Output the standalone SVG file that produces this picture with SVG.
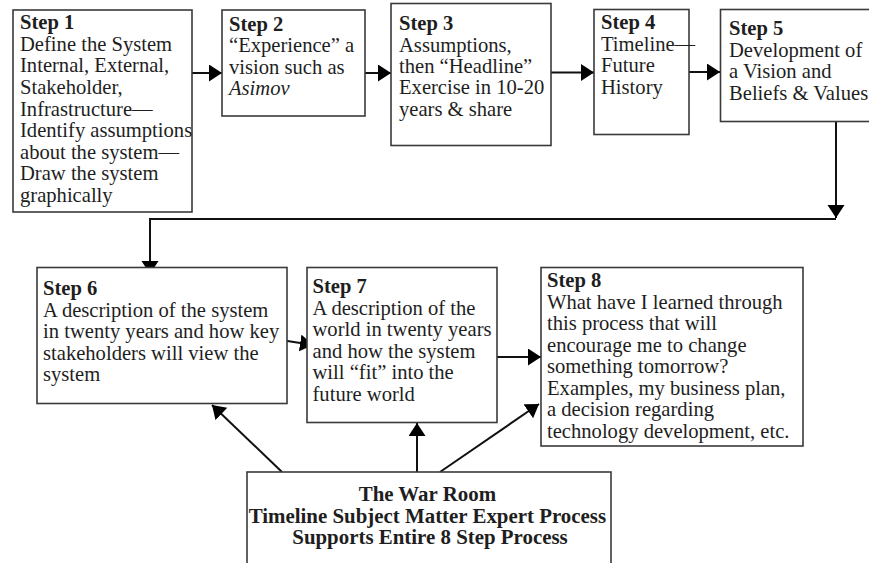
<svg xmlns="http://www.w3.org/2000/svg" width="869" height="563" viewBox="0 0 869 563">
  <style>
    .box { fill: #ffffff; stroke: #3a3a3a; stroke-width: 1.6; }
    .txt { font-family: "Liberation Serif", "Times New Roman", serif; font-size: 20.6px; fill: #1e1e1e; }
    .hd { font-weight: bold; }
    .ctr { text-anchor: middle; font-weight: bold; font-size: 20.9px; }
    .wire { fill: none; stroke: #111111; stroke-width: 2; }
    .arrow { fill: none; stroke: #111111; stroke-width: 2; marker-end: url(#head); }
  </style>
  <defs>
    <marker id="head" markerUnits="userSpaceOnUse" markerWidth="14" markerHeight="18" refX="13" refY="8.5" orient="auto">
      <path d="M0,0 L13,8.5 L0,17 z" fill="#000000"/>
    </marker>
  </defs>
  <rect width="869" height="563" fill="#ffffff"/>

  <g id="connectors">
    <line class="arrow" x1="192" y1="73" x2="222" y2="73"/>
    <line class="arrow" x1="365" y1="73" x2="391" y2="73"/>
    <line class="arrow" x1="551" y1="72.5" x2="594" y2="72.5"/>
    <line class="arrow" x1="689" y1="72" x2="720" y2="72"/>
    <line class="arrow" x1="836" y1="122" x2="836" y2="218"/>
    <polyline class="wire" points="836,219 150,219 150,262"/>
    <line class="arrow" x1="150" y1="258" x2="150" y2="274"/>
    <line class="arrow" x1="281" y1="340" x2="313" y2="345"/>
    <line class="arrow" x1="497" y1="357" x2="541" y2="357"/>
    <line class="arrow" x1="282" y1="472" x2="212" y2="405"/>
    <line class="arrow" x1="417" y1="472" x2="417" y2="423"/>
    <line class="arrow" x1="440" y1="472" x2="539" y2="404"/>
  </g>

  <g id="step1">
    <rect class="box" x="13" y="10" width="179" height="202"/>
    <text class="txt" x="20" y="29.3" font-size="20.2"><tspan class="hd">Step 1</tspan>
      <tspan x="20" y="50.9">Define the System</tspan>
      <tspan x="20" y="72.4">Internal, External,</tspan>
      <tspan x="20" y="94">Stakeholder,</tspan>
      <tspan x="20" y="115.5">Infrastructure—</tspan>
      <tspan x="20" y="137">Identify assumptions</tspan>
      <tspan x="20" y="158.6">about the system—</tspan>
      <tspan x="20" y="180.2">Draw the system</tspan>
      <tspan x="20" y="201.7">graphically</tspan>
    </text>
  </g>

  <g id="step2">
    <rect class="box" x="222" y="10" width="143" height="106"/>
    <text class="txt" x="229" y="30.7"><tspan class="hd">Step 2</tspan>
      <tspan x="229" y="52.2">“Experience” a</tspan>
      <tspan x="229" y="73.8">vision such as</tspan>
      <tspan x="229" y="95.3" font-style="italic">Asimov</tspan>
    </text>
  </g>

  <g id="step3">
    <rect class="box" x="391" y="3.5" width="160" height="142"/>
    <text class="txt" x="399" y="30"><tspan class="hd">Step 3</tspan>
      <tspan x="399" y="51.5">Assumptions,</tspan>
      <tspan x="399" y="73">then “Headline”</tspan>
      <tspan x="399" y="94.3">Exercise in 10-20</tspan>
      <tspan x="399" y="115.6">years &amp; share</tspan>
    </text>
  </g>

  <g id="step4">
    <rect class="box" x="594" y="9.5" width="95" height="125"/>
    <text class="txt" x="601" y="29.3"><tspan class="hd">Step 4</tspan>
      <tspan x="601" y="50.8">Timeline—</tspan>
      <tspan x="601" y="72.3">Future</tspan>
      <tspan x="601" y="93.6">History</tspan>
    </text>
  </g>

  <g id="step5">
    <rect class="box" x="720.5" y="9.5" width="160" height="112"/>
    <text class="txt" x="729" y="35"><tspan class="hd">Step 5</tspan>
      <tspan x="729" y="56.6">Development of</tspan>
      <tspan x="729" y="78.2">a Vision and</tspan>
      <tspan x="729" y="99.6">Beliefs &amp; Values</tspan>
    </text>
  </g>

  <g id="step6">
    <rect class="box" x="37" y="267.5" width="250" height="136"/>
    <text class="txt" x="43" y="295"><tspan class="hd">Step 6</tspan>
      <tspan x="43" y="316.6">A description of the system</tspan>
      <tspan x="43" y="338.2">in twenty years and how key</tspan>
      <tspan x="43" y="359.6">stakeholders will view the</tspan>
      <tspan x="43" y="381">system</tspan>
    </text>
  </g>

  <g id="step7">
    <rect class="box" x="307" y="267.5" width="190" height="155"/>
    <text class="txt" x="312.5" y="293.3"><tspan class="hd">Step 7</tspan>
      <tspan x="312.5" y="314.8">A description of the</tspan>
      <tspan x="312.5" y="336.3">world in twenty years</tspan>
      <tspan x="312.5" y="357.8">and how the system</tspan>
      <tspan x="312.5" y="379.3">will “fit” into the</tspan>
      <tspan x="312.5" y="400.8">future world</tspan>
    </text>
  </g>

  <g id="step8">
    <rect class="box" x="541" y="267.5" width="262" height="178.5"/>
    <text class="txt" x="547" y="287"><tspan class="hd">Step 8</tspan>
      <tspan x="547" y="308.5">What have I learned through</tspan>
      <tspan x="547" y="330">this process that will</tspan>
      <tspan x="547" y="351.5">encourage me to change</tspan>
      <tspan x="547" y="373">something tomorrow?</tspan>
      <tspan x="547" y="394.5">Examples, my business plan,</tspan>
      <tspan x="547" y="416">a decision regarding</tspan>
      <tspan x="547" y="437.5">technology development, etc.</tspan>
    </text>
  </g>

  <g id="war-room">
    <rect class="box" x="247" y="472" width="364" height="110"/>
    <text class="txt ctr" x="430" y="501">The War Room
      <tspan x="430" y="522.5">Timeline Subject Matter Expert Process</tspan>
      <tspan x="430" y="544">Supports Entire 8 Step Process</tspan>
    </text>
  </g>
</svg>
